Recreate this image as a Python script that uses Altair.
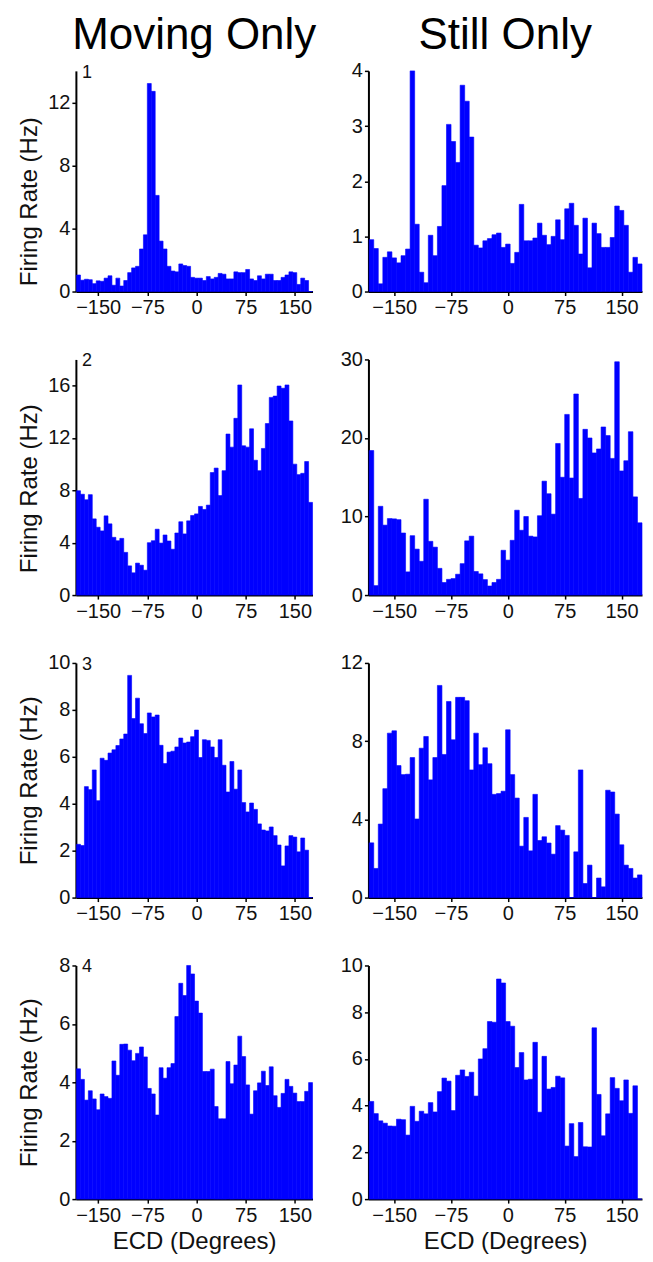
import altair as alt
import pandas as pd

FONT = "Liberation Sans"
BLUE = "#0000ff"
INK = "#111111"

# bin centres (degrees), 6-degree bins
ecd_centers = list(range(-180, 180, 6))

moving_1 = [1.05, 0.72, 0.78, 0.75, 0.50, 0.68, 0.65, 0.85, 1.00, 0.40,
            0.85, 0.35, 0.70, 1.20, 1.50, 1.60, 2.70, 3.60, 13.2, 12.7,
            6.10, 3.20, 2.70, 1.60, 1.30, 1.25, 1.75, 1.65, 1.60, 0.90,
            0.85, 0.85, 0.70, 0.95, 0.80, 0.90, 1.15, 1.10, 0.80, 0.80,
            1.25, 1.20, 1.20, 1.40, 0.80, 0.70, 1.00, 0.80, 1.10, 1.10,
            0.70, 0.70, 0.90, 1.05, 1.25, 1.20, 0.45, 0.85, 0.70, 0.0]
still_1 = [0.94, 0.78, 0.14, 0.62, 0.72, 0.61, 0.52, 0.65, 0.77, 4.00,
           1.22, 0.35, 0.16, 1.02, 0.65, 1.18, 1.92, 3.03, 2.72, 2.34,
           3.74, 3.45, 2.80, 0.84, 0.79, 0.92, 0.96, 1.03, 1.06, 0.80,
           0.86, 0.51, 0.71, 1.58, 0.92, 0.92, 0.97, 1.24, 1.02, 0.85,
           1.00, 1.30, 0.94, 1.50, 1.60, 1.20, 0.68, 1.33, 0.43, 1.24,
           1.05, 0.80, 0.80, 0.98, 1.55, 1.47, 1.20, 0.35, 0.62, 0.50]
moving_2 = [7.97, 7.70, 7.28, 7.67, 5.82, 5.18, 4.90, 6.05, 5.44, 4.41,
            4.15, 4.33, 3.26, 2.23, 1.70, 2.44, 2.28, 1.90, 4.00, 4.15,
            5.03, 3.97, 4.59, 4.13, 3.50, 4.74, 5.60, 4.67, 5.67, 6.08,
            6.20, 6.77, 6.54, 6.87, 9.36, 9.70, 7.60, 9.50, 12.3, 11.3,
            13.5, 16.05, 11.4, 11.3, 12.7, 10.3, 9.50, 11.2, 13.1, 15.1,
            15.2, 15.97, 15.8, 16.05, 13.3, 10.0, 9.20, 9.30, 10.2, 7.08]
still_2 = [18.4, 1.2, 11.3, 8.9, 9.74, 9.7, 9.6, 7.9, 2.95, 7.56,
           5.85, 4.3, 12.2, 6.84, 6.1, 3.4, 1.6, 2.0, 2.1, 2.65,
           4.0, 6.9, 7.5, 3.0, 2.7, 1.97, 1.15, 1.6, 2.0, 5.7,
           4.45, 6.97, 10.8, 8.25, 10.0, 7.5, 7.4, 10.1, 14.5, 12.9,
           10.3, 19.3, 15.0, 23.0, 14.9, 25.6, 12.3, 21.1, 20.0, 18.1,
           18.6, 21.4, 20.3, 17.4, 29.7, 15.8, 17.1, 20.8, 12.5, 9.2]
moving_3 = [2.27, 2.22, 4.73, 4.60, 5.44, 4.13, 5.94, 5.85, 6.16, 6.30,
            6.48, 6.76, 6.97, 9.47, 7.63, 8.50, 7.41, 6.99, 7.87, 7.70,
            7.78, 6.49, 5.71, 6.20, 6.24, 6.42, 6.80, 6.59, 6.63, 6.86,
            7.14, 5.97, 6.73, 6.70, 6.42, 5.97, 6.73, 5.64, 4.50, 5.80,
            4.62, 5.44, 4.05, 3.65, 4.03, 3.76, 3.14, 2.88, 2.84, 3.01,
            2.64, 2.24, 1.35, 2.20, 2.64, 2.58, 1.95, 2.54, 2.02, 0.0]
still_3 = [2.8, 1.49, 3.76, 5.57, 8.41, 8.53, 6.75, 6.29, 6.31, 7.16,
           4.02, 7.64, 8.24, 6.02, 7.16, 10.85, 7.32, 10.03, 8.07, 10.24,
           10.24, 10.07, 6.53, 8.41, 6.8, 7.66, 6.85, 5.28, 5.32, 5.44,
           8.58, 6.29, 5.09, 2.63, 4.1, 2.39, 5.28, 2.92, 3.11, 2.79,
           2.22, 3.68, 3.45, 3.18, 0.0, 2.34, 6.53, 0.72, 1.66, 0.0,
           1.0, 0.55, 5.49, 5.4, 4.27, 2.7, 1.66, 1.49, 1.0, 1.16]
moving_4 = [4.46, 4.10, 3.39, 3.71, 3.43, 3.06, 3.60, 3.51, 3.45, 4.73,
            4.24, 5.30, 5.31, 5.10, 4.74, 4.99, 5.21, 4.87, 3.79, 3.60,
            2.88, 4.50, 4.14, 4.50, 4.64, 6.25, 7.39, 6.97, 8.00, 7.71,
            6.78, 6.37, 4.37, 4.37, 4.45, 3.17, 2.75, 2.75, 4.71, 3.95,
            4.59, 5.58, 4.88, 3.91, 2.91, 3.71, 3.98, 4.38, 3.89, 4.53,
            3.54, 3.14, 3.62, 4.10, 3.86, 3.63, 3.34, 3.34, 3.69, 3.99]
still_4 = [4.18, 3.66, 3.35, 3.25, 3.13, 3.12, 3.42, 3.40, 2.74, 3.97,
           3.33, 3.76, 3.65, 4.13, 3.73, 4.60, 5.18, 5.05, 3.79, 5.30,
           5.53, 5.25, 5.43, 4.41, 6.00, 6.44, 7.60, 7.57, 9.42, 9.25,
           7.60, 7.40, 5.63, 6.27, 5.10, 5.13, 6.71, 3.72, 6.11, 4.71,
           4.78, 5.26, 5.19, 2.27, 3.23, 1.82, 3.28, 2.24, 2.23, 7.33,
           4.48, 2.71, 3.65, 5.20, 4.74, 4.21, 5.10, 3.67, 4.85, 0.0]

cell_numbers = ["1", "2", "3", "4"]
column_titles = ["Moving Only", "Still Only"]
x_ticks = [-150, -75, 0, 75, 150]
x_domain = [-184, 177]
y_domains = [[0, 14], [0, 4], [0, 18], [0, 30], [0, 10], [0, 12], [0, 8], [0, 10]]
y_ticks = [[0, 4, 8, 12], [0, 1, 2, 3, 4], [0, 4, 8, 12, 16], [0, 10, 20, 30],
           [0, 2, 4, 6, 8, 10], [0, 4, 8, 12], [0, 2, 4, 6, 8], [0, 2, 4, 6, 8, 10]]
series = [moving_1, still_1, moving_2, still_2, moving_3, still_3, moving_4, still_4]

col_widths = [237, 274]
row_heights = [221, 236, 235, 234]
title_offsets = [6, 3]
ytitle_shift = [20, 11, 0, 0]


def make_panel(i):
    row, col = divmod(i, 2)
    df = pd.DataFrame({"ecd": ecd_centers, "rate": series[i]})
    x_axis = alt.Axis(values=x_ticks, title="ECD (Degrees)" if row == 3 else None,
                      labelFlush=False, titlePadding=4)
    if col == 0:
        y_axis = alt.Axis(values=y_ticks[i], title="Firing Rate (Hz)", minExtent=30,
                          titlePadding=4, titleY=row_heights[row] / 2 + ytitle_shift[row])
    else:
        y_axis = alt.Axis(values=y_ticks[i], title=None, minExtent=30)
    bars = alt.Chart(df).transform_calculate(
        lo="datum.ecd - 3", hi="datum.ecd + 3"
    ).mark_rect(color=BLUE, stroke=BLUE, strokeWidth=0.6).encode(
        x=alt.X("lo:Q", scale=alt.Scale(domain=x_domain, nice=False, zero=False), axis=x_axis),
        x2="hi:Q",
        y=alt.Y("rate:Q", scale=alt.Scale(domain=y_domains[i], nice=False), axis=y_axis),
        y2=alt.datum(0),
    )
    layers = [bars]
    if col == 0:
        lab = alt.Chart(pd.DataFrame({"t": [cell_numbers[row]]})).mark_text(
            align="left", baseline="alphabetic", font=FONT, fontSize=18, color=INK
        ).encode(x=alt.value(6), y=alt.value(7), text="t:N")
        layers.append(lab)
    chart = alt.layer(*layers).properties(width=col_widths[col], height=row_heights[row])
    if row == 0:
        chart = chart.properties(title=alt.TitleParams(
            column_titles[col], fontSize=44, font=FONT, fontWeight="normal", color="black",
            anchor="middle", frame="group", offset=title_offsets[col]))
    return chart


panels = [make_panel(i) for i in range(8)]

chart = alt.concat(
    *panels, columns=2, spacing={"row": 68, "column": 56}, bounds="flush"
).properties(
    padding={"left": 10, "top": 5, "right": 2, "bottom": 2}
).configure_view(
    strokeWidth=0
).configure_axis(
    grid=False, domainColor="black", domainWidth=2, tickColor="black", tickWidth=1.5,
    tickSize=4, labelFont=FONT, labelFontSize=20, labelColor=INK, labelPadding=2,
    titleFont=FONT, titleFontSize=24, titleFontWeight="normal", titleColor=INK
)

chart.save("out.html", embed_options={"renderer": "svg", "actions": False})
